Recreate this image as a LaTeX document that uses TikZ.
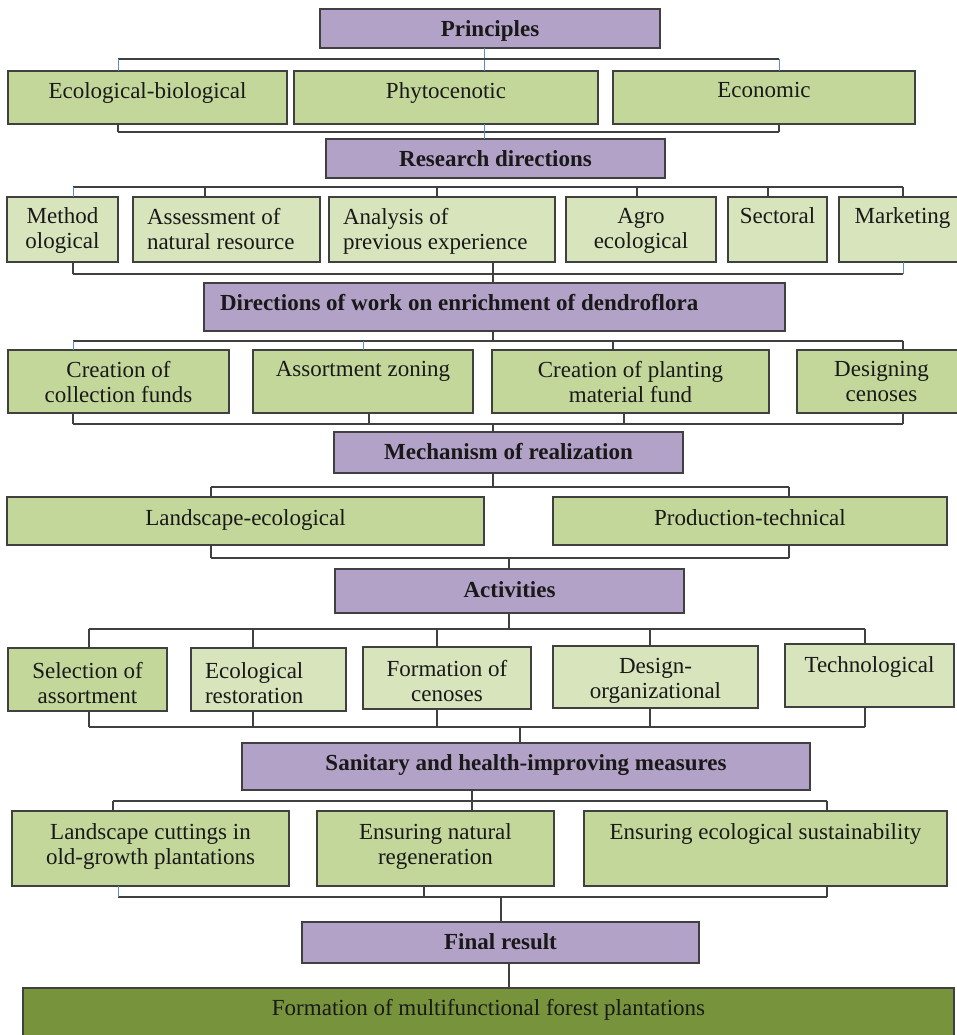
\documentclass[tikz,border=0pt]{standalone}
\usepackage{fontspec}
\setmainfont{Liberation Serif}
\definecolor{pur}{HTML}{B3A2C7}
\definecolor{gA}{HTML}{C4D79B}
\definecolor{gB}{HTML}{D8E4BC}
\definecolor{gD}{HTML}{77933C}
\definecolor{ln}{HTML}{404040}
\definecolor{bl}{HTML}{5B8BC8}
\tikzset{
  boxbase/.style={draw=ln, line width=1.3pt, inner sep=0pt, outer sep=0pt},
  pbox/.style={boxbase, fill=pur},
  abox/.style={boxbase, fill=gA},
  bbox/.style={boxbase, fill=gB},
  dbox/.style={boxbase, fill=gD},
  txt/.style={inner sep=0pt, outer sep=0pt, font=\fontsize{23}{25}\selectfont, text=black!90},
  btxt/.style={txt, font=\fontsize{23}{25}\selectfont\bfseries},
  conn/.style={draw=ln, line width=1.3pt},
  bconn/.style={draw=bl, line width=1pt}
}
% #1 offset, #2 name, #3 style, #4 x1, #5 y1, #6 x2, #7 y2, #8 text style, #9 text
\newcommand\mybox[9][11.5]{%
  \node[#3, minimum width={(#6-#4)*1pt}, minimum height={(#7-#5)*1pt}, anchor=north west] (#2) at (#4,#5) {};
  \node[#8, anchor=north, align=center] (#2-t) at ([yshift=-#1pt]#2.north) {#9};
}
\newcommand\myboxl[9][14]{%
  \node[#3, minimum width={(#6-#4)*1pt}, minimum height={(#7-#5)*1pt}, anchor=north west] (#2) at (#4,#5) {};
  \node[#8, anchor=north west, align=left] (#2-t) at ([xshift=#1pt,yshift=-11.5pt]#2.north west) {#9};
}
\newcommand\stem[4][conn]{\draw[#1] (#2,0 |- #3) -- (#2,0 |- #4);}
\begin{document}
\begin{tikzpicture}[x=1pt,y=-1pt]
\useasboundingbox (0,0) rectangle (957,1035);
\clip (0,0) rectangle (957,1035);
\fill[white] (0,0) rectangle (957,1035);

% ---------- boxes ----------
\mybox{pr}{pbox}{320}{9}{660}{48}{btxt}{Principles}
\mybox{eb}{abox}{8}{71}{287}{124}{txt}{Ecological-biological}
\mybox{ph}{abox}{294}{71}{598}{124}{txt}{Phytocenotic}
\mybox{ec}{abox}{613}{71}{915}{124}{txt}{Economic}

\mybox{rd}{pbox}{326}{139}{665}{178}{btxt}{Research directions}
\mybox[11]{me}{bbox}{7}{197}{118}{262}{txt}{Method\\ological}
\myboxl{as}{bbox}{133}{197}{320}{262}{txt}{Assessment of\\natural resource}
\myboxl{an}{bbox}{329}{197}{555}{262}{txt}{Analysis of\\previous experience}
\mybox[11]{ag}{bbox}{566}{197}{716}{262}{txt}{Agro\\ecological}
\mybox[11]{se}{bbox}{728}{197}{827}{262}{txt}{Sectoral}
\mybox[11]{mk}{bbox}{839}{197}{966}{262}{txt}{Marketing}

\myboxl[16]{dw}{pbox}{204}{283}{785}{331}{btxt}{Directions of work on enrichment of dendroflora}
\mybox{cc}{abox}{8}{350}{229}{413}{txt}{Creation of\\collection funds}
\mybox{az}{abox}{253}{350}{473}{413}{txt}{Assortment zoning}
\mybox{cp}{abox}{492}{350}{769}{413}{txt}{Creation of planting\\material fund}
\mybox{dc}{abox}{797}{350}{966}{413}{txt}{Designing\\cenoses}

\mybox{mr}{pbox}{334}{432}{683}{473}{btxt}{Mechanism of realization}
\mybox[12.5]{le}{abox}{7}{497}{484}{545}{txt}{Landscape-ecological}
\mybox[12.5]{pt}{abox}{553}{497}{947}{545}{txt}{Production-technical}

\mybox[12.5]{ac}{pbox}{335}{569}{684}{613}{btxt}{Activities}
\mybox[14.5]{sa}{abox}{8}{648}{167}{711}{txt}{Selection of\\assortment}
\myboxl{er}{bbox}{191}{648}{346}{711}{txt, yshift=-3pt}{Ecological\\restoration}
\mybox[13.5]{fc}{bbox}{363}{647}{531}{709}{txt}{Formation of\\cenoses}
\mybox[12]{do}{bbox}{553}{646}{758}{708}{txt}{Design-\\organizational}
\mybox[12.5]{te}{bbox}{785}{644}{954}{707}{txt}{Technological}

\mybox{sh}{pbox}{242}{743}{810}{790}{btxt}{Sanitary and health-improving measures}
\mybox[12.5]{lc}{abox}{12}{811}{289}{886}{txt}{Landscape cuttings in\\old-growth plantations}
\mybox[12.5]{en}{abox}{317}{811}{554}{886}{txt}{Ensuring natural\\regeneration}
\mybox[12.5]{es}{abox}{584}{811}{947}{886}{txt}{Ensuring ecological sustainability}

\mybox{fr}{pbox}{302}{922}{699}{963}{btxt}{Final result}
\mybox{fm}{dbox}{23}{988}{954}{1045}{txt}{Formation of multifunctional forest plantations}

% ---------- connectors ----------
% Principles
\stem[bconn]{484}{pr.south}{ph.north}
\draw[conn] (118,59) -- (779,59);
\stem[bconn]{118}{0,59}{eb.north}
\stem[bconn]{779}{0,59}{ec.north}
\draw[conn] (118,132) -- (779,132);
\stem{118}{eb.south}{0,132}
\stem{779}{ec.south}{0,132}
\stem[bconn]{484}{ph.south}{rd.north}

% Research directions
\draw[conn] (73,187) -- (903,187);
\stem[bconn]{73}{0,187}{me.north}
\stem{205}{0,187}{as.north}
\stem{437}{0,187}{an.north}
\stem{637}{0,187}{ag.north}
\stem{768}{0,187}{se.north}
\stem{903}{0,187}{mk.north}
\draw[conn] (73,274) -- (903,274);
\stem{73}{me.south}{0,274}
\stem[bconn]{903}{mk.south}{0,274}
\stem{493}{an.south}{dw.north}

% Directions of work
\stem{493}{dw.south}{0,341}
\draw[conn] (73,341) -- (903,341);
\stem[bconn]{73}{0,341}{cc.north}
\stem[bconn]{363}{0,341}{az.north}
\stem{613}{0,341}{cp.north}
\stem{903}{0,341}{dc.north}
\draw[conn] (73,424) -- (903,424);
\stem{73}{cc.south}{0,424}
\stem{369}{az.south}{0,424}
\stem{624}{cp.south}{0,424}
\stem{903}{dc.south}{0,424}
\stem{493}{0,424}{mr.north}

% Mechanism
\stem{493}{mr.south}{0,487}
\draw[conn] (211,487) -- (789,487);
\stem{211}{0,487}{le.north}
\stem{789}{0,487}{pt.north}
\draw[conn] (211,558) -- (789,558);
\stem{211}{le.south}{0,558}
\stem{789}{pt.south}{0,558}
\stem{509}{0,558}{ac.north}

% Activities
\stem{509}{ac.south}{0,629}
\draw[conn] (89,629) -- (865,629);
\stem{89}{0,629}{sa.north}
\stem{253}{0,629}{er.north}
\stem{437}{0,629}{fc.north}
\stem{650}{0,629}{do.north}
\stem{865}{0,629}{te.north}
\draw[conn] (89,727) -- (865,727);
\stem{89}{sa.south}{0,727}
\stem{253}{er.south}{0,727}
\stem{437}{fc.south}{0,727}
\stem{650}{do.south}{0,727}
\stem{865}{te.south}{0,727}
\stem{520}{0,727}{sh.north}

% Sanitary
\stem{472}{sh.south}{en.north}
\draw[conn] (113,801) -- (827,801);
\stem{113}{0,801}{lc.north}
\stem{827}{0,801}{es.north}
\draw[conn] (118,897) -- (827,897);
\stem[bconn]{118}{lc.south}{0,897}
\stem{424}{en.south}{0,897}
\stem{827}{es.south}{0,897}
\stem{501}{0,897}{fr.north}

% Final
\stem{509}{fr.south}{fm.north}
\end{tikzpicture}
\end{document}
